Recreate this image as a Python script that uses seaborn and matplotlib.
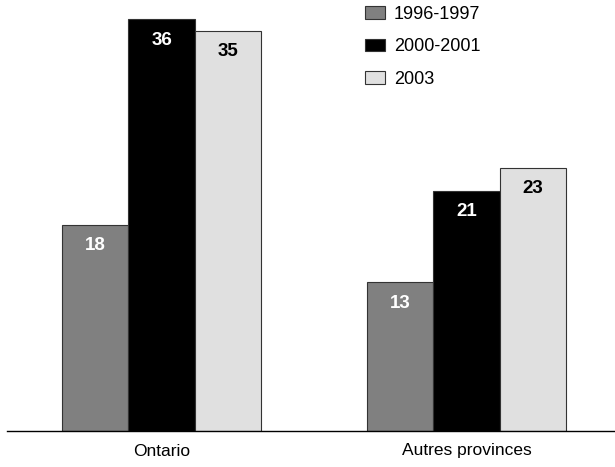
import pandas as pd
import matplotlib.pyplot as plt
import seaborn as sns

regions = ['Ontario', 'Autres provinces']
periods = ['1996-1997', '2000-2001', '2003']
values_9697 = [18, 13]
values_0001 = [36, 21]
values_2003 = [35, 23]

df = pd.DataFrame({
    'Region': regions * 3,
    'Period': [periods[0]] * 2 + [periods[1]] * 2 + [periods[2]] * 2,
    'Value': values_9697 + values_0001 + values_2003,
})

sns.set_style("white")
plt.rcParams['font.family'] = ['Liberation Sans Narrow', 'Liberation Sans', 'DejaVu Sans']
plt.rcParams['text.color'] = 'black'
plt.rcParams['xtick.color'] = 'black'

colors = ['#808080', '#000000', '#e0e0e0']
label_colors = ['white', 'white', 'black']

fig = plt.figure(figsize=(6.15, 4.67), dpi=100)
ax = fig.add_axes([7 / 615, 36 / 467, 608 / 615, 431 / 467])

sns.barplot(data=df, x='Region', y='Value', hue='Period', order=regions,
            hue_order=periods, palette=colors, width=0.655,
            edgecolor='#333333', linewidth=0.8, saturation=1, ax=ax)

for cont, lc in zip(ax.containers, label_colors):
    ax.bar_label(cont, labels=[str(int(v)) for v in cont.datavalues],
                 padding=-21, color=lc, fontsize=13.5, fontweight='bold')

ax.set_ylim(0, 37.7)
ax.set_xlim(-0.5066, 1.487)
ax.set_xlabel('')
ax.set_ylabel('')
ax.set_yticks([])
ax.tick_params(axis='x', length=0, labelsize=12.5, pad=9)
for s in ['top', 'right', 'left']:
    ax.spines[s].set_visible(False)
ax.spines['bottom'].set_color('black')
ax.spines['bottom'].set_linewidth(1)

leg = ax.legend(loc='upper left', bbox_to_anchor=(358 / 615, 1.003),
                bbox_transform=fig.transFigure, frameon=False, fontsize=13,
                handlelength=1.1, handleheight=0.7, labelspacing=0.85,
                handletextpad=0.5, borderaxespad=0.0)

plt.savefig('out.png', dpi=100)
plt.close()
